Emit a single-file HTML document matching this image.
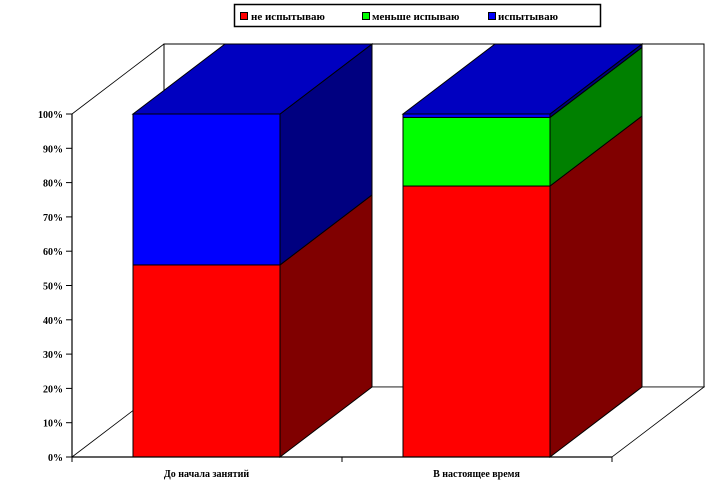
<!DOCTYPE html>
<html><head><meta charset="utf-8"><style>
body{margin:0;background:#fff;}
svg{display:block;font-family:"Liberation Serif",serif;}
</style></head><body>
<svg id="chart" width="726" height="497" viewBox="0 0 726 497">
<g id="walls"></g>
<g id="bars"></g>
<g id="axis"></g>
<g>
<rect x="234.5" y="4.5" width="366" height="22" fill="#fff" stroke="#000" stroke-width="1.5"/>
<g><rect x="240.5" y="12.5" width="7" height="7" fill="#ff0000" stroke="#000"/><text x="251" y="20" font-size="11" font-weight="bold">не испытываю</text></g>
<g><rect x="362.5" y="12.5" width="7" height="7" fill="#00ff00" stroke="#000"/><text x="372" y="20" font-size="11" font-weight="bold">меньше испываю</text></g>
<g><rect x="488.5" y="12.5" width="7" height="7" fill="#0000ff" stroke="#000"/><text x="498" y="20" font-size="11" font-weight="bold">испытываю</text></g>
</g>
</svg>
<script>
const categories=["До начала занятий","В настоящее время"];
const seriesNames=["не испытываю","меньше испываю","испытываю"];
const notFeel=[56,79];
const lessFeel=[0,20];
const feel=[44,1];
const tickLabels=["0%","10%","20%","30%","40%","50%","60%","70%","80%","90%","100%"];
const frontColors=["#ff0000","#00ff00","#0000ff"];
const sideColors=["#800000","#008000","#000080"];
const topColors=["#c00000","#00c000","#0000c0"];
const NS="http://www.w3.org/2000/svg";
const X0=72,X1=612,Y0=457,Y100=114,DX=92,DY=-70;
function y(v){return Y0-(Y100-Y0)*-v/100;}
const slot=(X1-X0)/categories.length;
function bx(i){return X0+slot*i+61;}
const BW=147;
function mk(p,tag,attrs){const e=document.createElementNS(NS,tag);for(const k in attrs)e.setAttribute(k,attrs[k]);p.appendChild(e);return e;}
const walls=document.getElementById('walls'),bars=document.getElementById('bars'),axis=document.getElementById('axis');
// walls
let w=mk(walls,'polygon',{points:`${X0+DX},${Y100+DY} ${X1+DX},${Y100+DY} ${X1+DX},${Y0+DY} ${X0+DX},${Y0+DY}`,fill:'#fff',stroke:'#000','stroke-width':1});


let f=mk(walls,'polygon',{points:`${X0},${Y0} ${X0+DX},${Y0+DY} ${X1+DX},${Y0+DY} ${X1},${Y0}`,fill:'#fff',stroke:'#000','stroke-width':0.8});


let sw=mk(walls,'line',{x1:X0,y1:Y100,x2:X0+DX,y2:Y100+DY,stroke:'#000','stroke-width':0.8});


// bars
const series=[notFeel,lessFeel,feel];
categories.forEach((c,i)=>{
 const g=mk(bars,'g',{});
 
 
 let base=0;
 const segs=[];
 series.forEach((s,k)=>{if(s[i]>0){segs.push({k,from:base,to:base+s[i]});}base+=s[i];});
 const x=bx(i);
 segs.forEach((sg,j)=>{
  const yt=y(sg.to),yb=y(sg.from);
  const sg2=mk(g,'g',{});
  
  
  mk(sg2,'rect',{x:x,y:yt,width:BW,height:yb-yt,fill:frontColors[sg.k],stroke:'#000','stroke-width':1});
  mk(sg2,'polygon',{points:`${x+BW},${yb} ${x+BW+DX},${yb+DY} ${x+BW+DX},${yt+DY} ${x+BW},${yt}`,fill:sideColors[sg.k],stroke:'#000','stroke-width':1});
  if(j===segs.length-1) mk(sg2,'polygon',{points:`${x},${yt} ${x+DX},${yt+DY} ${x+BW+DX},${yt+DY} ${x+BW},${yt}`,fill:topColors[sg.k],stroke:'#000','stroke-width':1});
 });
 const t=mk(g,'text',{x:x+BW/2,y:477,'text-anchor':'middle','font-size':10,'font-weight':'bold'});
 t.textContent=c;
 
 
});
// axis
mk(axis,'line',{x1:X0,y1:Y100,x2:X0,y2:Y0,stroke:'#000','stroke-width':1.2});
mk(axis,'line',{x1:X0,y1:Y0,x2:X1,y2:Y0,stroke:'#000','stroke-width':1.2});
for(let i=0;i<=categories.length;i++){mk(axis,'line',{x1:X0+slot*i,y1:Y0,x2:X0+slot*i,y2:Y0+5,stroke:'#000'});}
tickLabels.forEach((l,i)=>{
 const v=i*10;
 mk(axis,'line',{x1:X0-6,y1:y(v),x2:X0,y2:y(v),stroke:'#000'});
 const t=mk(axis,'text',{x:X0-9,y:y(v)+4,'text-anchor':'end','font-size':10,'font-weight':'bold'});
 t.textContent=l;
 
 
});
</script>
</body></html>
